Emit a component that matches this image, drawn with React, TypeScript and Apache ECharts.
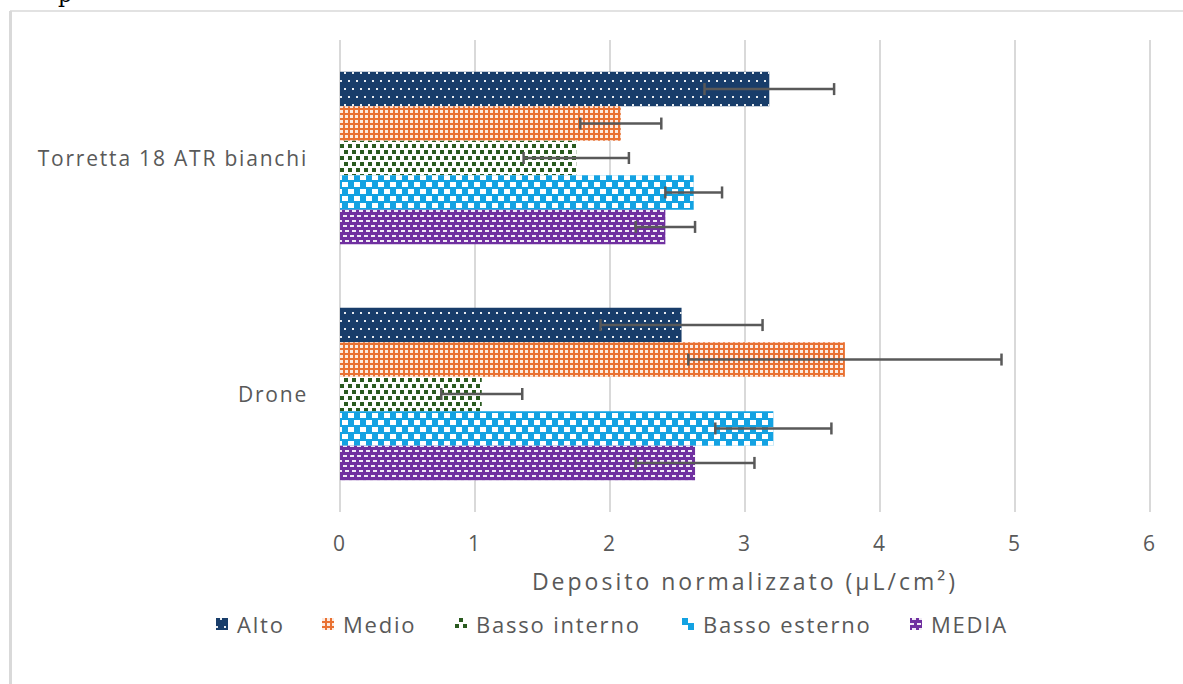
import React, { useEffect, useRef } from "react";
import * as echarts from "echarts";

const categories = ["Drone", "Torretta 18 ATR bianchi"];
const seriesNames = ["Alto", "Medio", "Basso interno", "Basso esterno", "MEDIA"];
// values per series: [Drone, Torretta]
const altoValues = [2.53, 3.18];
const medioValues = [3.74, 2.08];
const bassoInternoValues = [1.05, 1.75];
const bassoEsternoValues = [3.21, 2.62];
const mediaValues = [2.63, 2.41];
// standard deviations (error bars): [Drone, Torretta]
const altoErr = [0.6, 0.48];
const medioErr = [1.16, 0.3];
const bassoInternoErr = [0.3, 0.39];
const bassoEsternoErr = [0.43, 0.21];
const mediaErr = [0.44, 0.22];
const xTicks = [0, 1, 2, 3, 4, 5, 6];

const allValues = [altoValues, medioValues, bassoInternoValues, bassoEsternoValues, mediaValues];
const allErrs = [altoErr, medioErr, bassoInternoErr, bassoEsternoErr, mediaErr];

const colors = ["#183d6a", "#e97132", "#ffffff", "#13a2e2", "#7030a0"];
const decals: any[] = [
  { symbol: "rect", color: "rgba(255,255,255,0.9)", dashArrayX: [[2, 6], [0, 4, 2, 2]], dashArrayY: [2, 6], symbolSize: 1, symbolKeepAspect: false },
  { symbol: "rect", color: "rgba(255,255,255,0.85)", dashArrayX: [2.5, 1.5], dashArrayY: [2.5, 1.5], symbolSize: 1, symbolKeepAspect: false },
  { symbol: "rect", color: "#2a5a1f", dashArrayX: [[4, 4], [0, 4, 4, 0]], dashArrayY: [4, 2], symbolSize: 1, symbolKeepAspect: false },
  { symbol: "rect", color: "#ffffff", dashArrayX: [[6, 6], [0, 6, 6, 0]], dashArrayY: [5, 2], symbolSize: 1, symbolKeepAspect: false },
  { symbol: "rect", color: "rgba(255,255,255,0.9)", dashArrayX: [[4, 3], [0, 2, 4, 1]], dashArrayY: [1.5, 2.5], symbolSize: 1, symbolKeepAspect: false },
];
const legendLefts = [216, 322, 455, 682, 910];

const GAP = 0.27;
const DIR = 1;

export default function App() {
  const ref = useRef<HTMLDivElement>(null);
  useEffect(() => {
    if (!ref.current) return;
    const chart = echarts.init(ref.current, undefined, { renderer: "svg" });
    const font = "'Open Sans', sans-serif";
    const barSeries = seriesNames.map((name, i) => ({
      name,
      type: "bar",
      data: allValues[i],
      barGap: "0%",
      barCategoryGap: GAP * 100 + "%",
      itemStyle: { color: colors[i], decal: decals[i] },
      z: 2,
    }));
    const errSeries = seriesNames.map((name, i) => ({
      name: "err_" + name,
      type: "custom",
      z: 5,
      encode: { x: [1, 2], y: 0 },
      data: allValues[i].map((v, k) => [k, v - allErrs[i][k], v + allErrs[i][k]]),
      renderItem: (params: any, api: any) => {
        const cat = api.value(0);
        const lo = api.coord([api.value(1), cat]);
        const hi = api.coord([api.value(2), cat]);
        const band = api.size([0, 1])[1];
        const bw = (band * (1 - GAP)) / 5;
        const y = lo[1] + DIR * (i - 2) * bw;
        const cap = 6;
        const st = { stroke: "#595959", lineWidth: 2.5 };
        return {
          type: "group",
          children: [
            { type: "line", shape: { x1: lo[0], y1: y, x2: hi[0], y2: y }, style: st },
            { type: "line", shape: { x1: lo[0], y1: y - cap, x2: lo[0], y2: y + cap }, style: st },
            { type: "line", shape: { x1: hi[0], y1: y - cap, x2: hi[0], y2: y + cap }, style: st },
          ],
        };
      },
    }));
    const legends = seriesNames.map((name, i) => ({
      data: [name],
      left: legendLefts[i],
      top: 613,
      icon: "rect",
      itemWidth: 12,
      itemHeight: 12,
      padding: 0,
      textStyle: { color: "#595959", fontSize: 22, fontFamily: font, padding: [0, 0, 0, 4] },
    }));
    chart.setOption({
      animation: false,
      backgroundColor: "#ffffff",
      grid: { left: 340, right: 33, top: 40, bottom: 172 },
      legend: legends,
      xAxis: {
        type: "value",
        min: 0,
        max: 6,
        interval: 1,
        axisLine: { show: false },
        axisTick: { show: false },
        splitLine: { lineStyle: { color: "#d9d9d9", width: 2 } },
        axisLabel: {
          color: "#595959",
          fontSize: 21,
          fontFamily: font,
          margin: 20,
          formatter: (v: number) => (xTicks.includes(v) ? String(v) : ""),
        },
        name: "Deposito normalizzato (µL/cm²)",
        nameLocation: "middle",
        nameGap: 57,
        nameTextStyle: { color: "#595959", fontSize: 23, fontFamily: font },
      },
      yAxis: {
        type: "category",
        data: categories,
        axisLine: { show: false },
        axisTick: { show: false },
        axisLabel: { color: "#595959", fontSize: 21, fontFamily: font, margin: 32 },
      },
      graphic: [
        { type: "line", shape: { x1: 10, y1: 11, x2: 1200, y2: 11 }, style: { stroke: "#d9d9d9", lineWidth: 1.5 }, silent: true },
        { type: "line", shape: { x1: 10.5, y1: 11, x2: 10.5, y2: 700 }, style: { stroke: "#d9d9d9", lineWidth: 3 }, silent: true },
        { type: "text", x: 58, y: -17, style: { text: "p", font: "22px 'DejaVu Serif', serif", fill: "#000" }, silent: true },
      ],
      series: [...barSeries, ...errSeries],
    });
    return () => chart.dispose();
  }, []);
  return (
    <>
      <style>{`
        .chartbox text { letter-spacing: 1.8px; }
        .chartbox text[style*="23px"] { letter-spacing: 3px; }
      `}</style>
      <div className="chartbox" ref={ref} style={{ position: "fixed", left: 0, top: 0, width: 1183, height: 684 }} />
    </>
  );
}
